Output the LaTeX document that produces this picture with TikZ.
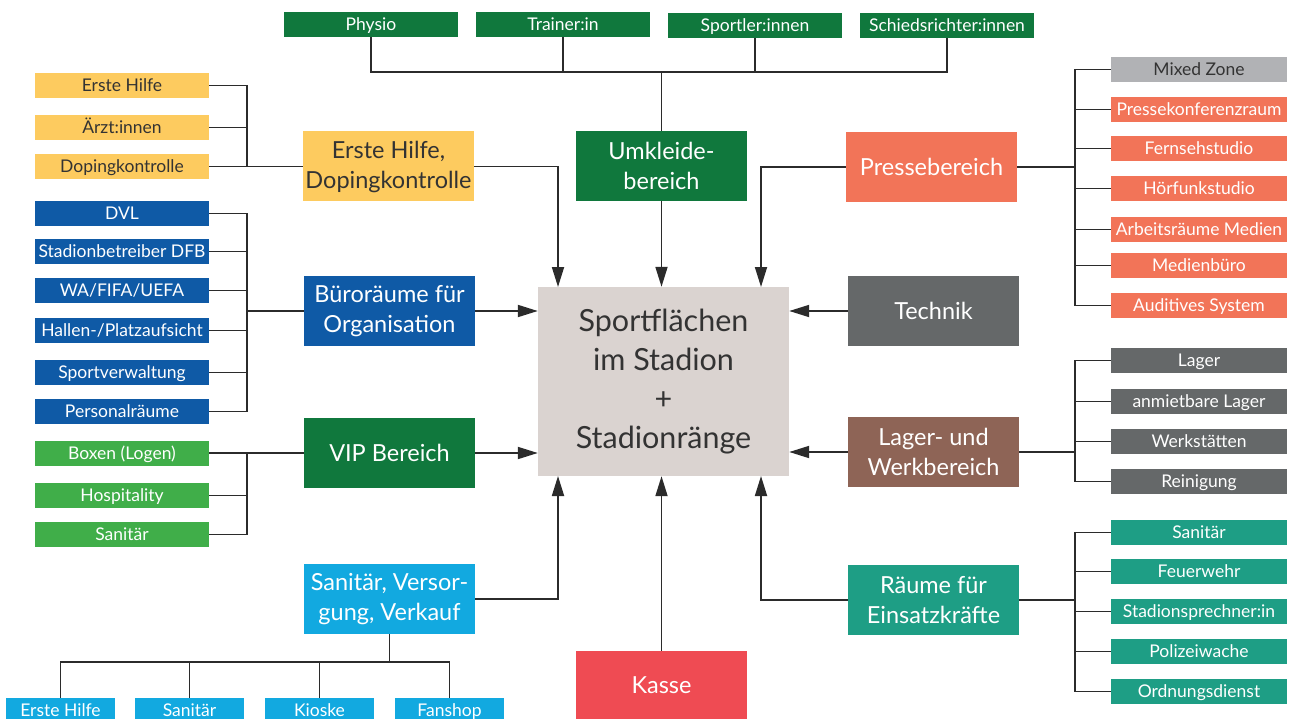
\documentclass[tikz,border=0pt]{standalone}
\usepackage{fontspec}
\setmainfont{Lato}
\usetikzlibrary{arrows.meta}
\definecolor{cYel}{HTML}{FDCB5F}
\definecolor{cBlue}{HTML}{0F5AA6}
\definecolor{cGreen}{HTML}{10783D}
\definecolor{cLGreen}{HTML}{40AE49}
\definecolor{cCyan}{HTML}{12A9E0}
\definecolor{cSalmon}{HTML}{F27458}
\definecolor{cLGrey}{HTML}{B1B2B5}
\definecolor{cDGrey}{HTML}{656869}
\definecolor{cBrown}{HTML}{8E6456}
\definecolor{cTeal}{HTML}{1E9E85}
\definecolor{cRed}{HTML}{EF4B53}
\definecolor{cCenter}{HTML}{DAD3D0}
\definecolor{cLine}{HTML}{2B2B2B}
\definecolor{cText}{HTML}{333333}
\tikzset{
  smallbox/.style={rectangle, inner sep=0pt, minimum width=174pt, minimum height=25pt, text=white,
     text height=12.5pt, text depth=0.5pt,
     font=\fontsize{17.5}{20}\selectfont},
  bigbox/.style={rectangle, inner sep=0pt, minimum width=171pt, minimum height=70pt, text=white,
     align=center, font=\fontsize{23.5}{30}\selectfont},
  conn/.style={draw=cLine, line width=1.8pt},
  arr/.style={conn, -{Triangle[length=20pt,width=12pt]}}
}
\begin{document}
\begin{tikzpicture}[x=1pt,y=-1pt]
\useasboundingbox (0,0) rectangle (1289,719);
% center
\node[rectangle, fill=cCenter, minimum width=251pt, minimum height=189pt, inner sep=0pt, text=cText, align=center,
  font=\fontsize{30.5}{39}\selectfont] (center) at (663.5,381.5) {Sportflächen\\im Stadion\\+\\Stadionränge};

% big boxes
\node[bigbox, fill=cYel, text=cText] (ehbig) at (388.5,166.5) {Erste Hilfe,\\Dopingkontrolle};
\node[bigbox, fill=cBlue] (buero) at (389.5,311) {Büroräume für\\Organisation};
\node[bigbox, fill=cGreen] (vip) at (389.5,453) {VIP Bereich};
\node[bigbox, fill=cCyan] (sv) at (389.5,599) {Sanitär, Versor-\\gung, Verkauf};
\node[bigbox, fill=cGreen] (umk) at (661.5,166) {Umkleide-\\bereich};
\node[bigbox, fill=cRed, minimum height=68pt] (kasse) at (661.5,685) {Kasse};
\node[bigbox, fill=cSalmon] (presse) at (931.5,167) {Pressebereich};
\node[bigbox, fill=cDGrey] (technik) at (933.5,311) {Technik};
\node[bigbox, fill=cBrown] (lager) at (933.5,452) {Lager- und\\Werkbereich};
\node[bigbox, fill=cTeal] (raeume) at (933.5,600) {Räume für\\Einsatzkräfte};

% top small
\node[smallbox, fill=cGreen] (physio) at (371,24.5) {Physio};
\node[smallbox, fill=cGreen] (trainer) at (563,24.5) {Trainer:in};
\node[smallbox, fill=cGreen] (sportler) at (755,25.5) {Sportler:innen};
\node[smallbox, fill=cGreen] (schied) at (947,25.5) {Schiedsrichter:innen};

% left small
\node[smallbox, fill=cYel, text=cText] (eh1) at (122,85.5) {Erste Hilfe};
\node[smallbox, fill=cYel, text=cText] (eh2) at (122,127.5) {Ärzt:innen};
\node[smallbox, fill=cYel, text=cText] (eh3) at (122,166.5) {Dopingkontrolle};
\node[smallbox, fill=cBlue] (b1) at (122,213.5) {DVL};
\node[smallbox, fill=cBlue] (b2) at (122,251.5) {Stadionbetreiber DFB};
\node[smallbox, fill=cBlue] (b3) at (122,290.5) {WA/FIFA/UEFA};
\node[smallbox, fill=cBlue] (b4) at (122,330.5) {Hallen-/Platzaufsicht};
\node[smallbox, fill=cBlue] (b5) at (122,372.5) {Sportverwaltung};
\node[smallbox, fill=cBlue] (b6) at (122,411.5) {Personalräume};
\node[smallbox, fill=cLGreen] (v1) at (122,453) {Boxen (Logen)};
\node[smallbox, fill=cLGreen] (v2) at (122,495.5) {Hospitality};
\node[smallbox, fill=cLGreen] (v3) at (122,534.5) {Sanitär};

% bottom small
\node[smallbox, fill=cCyan, minimum width=109pt] (s1) at (60.5,710.5) {Erste Hilfe};
\node[smallbox, fill=cCyan, minimum width=109pt] (s2) at (189.5,710.5) {Sanitär};
\node[smallbox, fill=cCyan, minimum width=109pt] (s3) at (319.5,710.5) {Kioske};
\node[smallbox, fill=cCyan, minimum width=109pt] (s4) at (449.5,710.5) {Fanshop};

% right small
\node[smallbox, fill=cLGrey, text=cText, minimum width=176pt] (p1) at (1199,69.5) {Mixed Zone};
\node[smallbox, fill=cSalmon, minimum width=176pt] (p2) at (1199,109.5) {Pressekonferenzraum};
\node[smallbox, fill=cSalmon, minimum width=176pt] (p3) at (1199,148.5) {Fernsehstudio};
\node[smallbox, fill=cSalmon, minimum width=176pt] (p4) at (1199,188.5) {Hörfunkstudio};
\node[smallbox, fill=cSalmon, minimum width=176pt] (p5) at (1199,229.5) {Arbeitsräume Medien};
\node[smallbox, fill=cSalmon, minimum width=176pt] (p6) at (1199,265.5) {Medienbüro};
\node[smallbox, fill=cSalmon, minimum width=176pt] (p7) at (1199,305.5) {Auditives System};
\node[smallbox, fill=cDGrey, minimum width=176pt] (l1) at (1199,360.5) {Lager};
\node[smallbox, fill=cDGrey, minimum width=176pt] (l2) at (1199,401.5) {anmietbare Lager};
\node[smallbox, fill=cDGrey, minimum width=176pt] (l3) at (1199,441.5) {Werkstätten};
\node[smallbox, fill=cDGrey, minimum width=176pt] (l4) at (1199,481.5) {Reinigung};
\node[smallbox, fill=cTeal, minimum width=176pt] (r1) at (1199,532.5) {Sanitär};
\node[smallbox, fill=cTeal, minimum width=176pt] (r2) at (1199,571.5) {Feuerwehr};
\node[smallbox, fill=cTeal, minimum width=176pt] (r3) at (1199,611.5) {Stadionsprechner:in};
\node[smallbox, fill=cTeal, minimum width=176pt] (r4) at (1199,651.5) {Polizeiwache};
\node[smallbox, fill=cTeal, minimum width=176pt] (r5) at (1199,691.5) {Ordnungsdienst};

% helper coordinates
\coordinate (xl) at (247,0);
\coordinate (xr) at (1075,0);
\coordinate (tb) at (661.5,72);
\coordinate (bb) at (389.5,662);
\coordinate (tl) at (558,287);
\coordinate (tr) at (761,287);
\coordinate (bl) at (558,476);
\coordinate (br) at (761,476);

% top bracket
\draw[conn] (physio.south) |- (tb) -| (schied.south);
\draw[conn] (trainer.south) -- (trainer.south |- tb);
\draw[conn] (sportler.south) -- (sportler.south |- tb);
\draw[conn] (umk.north) -- (umk.north |- tb);

% left brackets
\draw[conn] (eh1.east) -| (eh3.east -| xl);
\draw[conn] (eh2.east) -- (eh2.east -| xl);
\draw[conn] (eh3.east) -- (ehbig.west);
\draw[conn] (b1.east) -| (b6.east -| xl) -- (b6.east);
\foreach \n in {b2,b3,b4,b5} \draw[conn] (\n.east) -- (\n.east -| xl);
\draw[conn] (buero.west) -- (buero.west -| xl);
\draw[conn] (v1.east) -- (vip.west);
\draw[conn] (v1.east -| xl) |- (v3.east);
\draw[conn] (v2.east) -- (v2.east -| xl);

% bottom bracket
\draw[conn] (sv.south) -- (sv.south |- bb);
\draw[conn] (s1.north) |- (bb) -| (s4.north);
\draw[conn] (s2.north) -- (s2.north |- bb);
\draw[conn] (s3.north) -- (s3.north |- bb);

% right brackets
\draw[conn] (p1.west) -| (p7.west -| xr) -- (p7.west);
\foreach \n in {p2,p3,p4,p5,p6} \draw[conn] (\n.west) -- (\n.west -| xr);
\draw[conn] (presse.east) -- (presse.east -| xr);
\draw[conn] (l1.west) -| (l4.west -| xr) -- (l4.west);
\foreach \n in {l2,l3} \draw[conn] (\n.west) -- (\n.west -| xr);
\draw[conn] (lager.east) -- (lager.east -| xr);
\draw[conn] (r1.west) -| (r5.west -| xr) -- (r5.west);
\foreach \n in {r2,r3,r4} \draw[conn] (\n.west) -- (\n.west -| xr);
\draw[conn] (raeume.east) -- (raeume.east -| xr);

% arrows to center
\draw[arr] (ehbig.east) -| (tl);
\draw[arr] (umk.south) -- (umk.south |- center.north);
\draw[arr] (presse.west) -| (tr);
\draw[arr] (buero.east) -- (buero.east -| center.west);
\draw[arr] (technik.west) -- (technik.west -| center.east);
\draw[arr] (vip.east) -- (vip.east -| center.west);
\draw[arr] (lager.west) -- (lager.west -| center.east);
\draw[arr] (sv.east) -| (bl);
\draw[arr] (kasse.north) -- (kasse.north |- center.south);
\draw[arr] (raeume.west) -| (br);
\end{tikzpicture}
\end{document}
